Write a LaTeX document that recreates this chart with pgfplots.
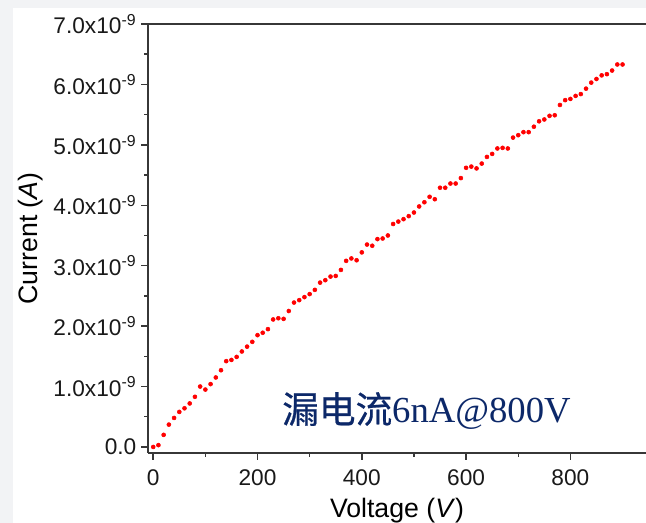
\documentclass[border=0pt]{standalone}
\usepackage{pgfplots}
\pgfplotsset{compat=1.18}
\usepackage{fontspec}
\setmainfont{Liberation Sans}
\newfontfamily\serifen{Liberation Serif}
\newfontfamily\cjk[FakeBold=0.6]{Noto Sans CJK SC}
\definecolor{pagegray}{RGB}{242,243,245}
\definecolor{spine}{RGB}{55,55,55}
\definecolor{note}{RGB}{12,40,105}

% leakage current (nA) against bias voltage (V)
\pgfplotstableread{
V I
0 0.00
10 0.03
20 0.20
30 0.37
40 0.48
50 0.58
60 0.64
70 0.72
80 0.83
90 1.00
100 0.95
110 1.04
120 1.15
130 1.27
140 1.42
150 1.44
160 1.49
170 1.58
180 1.66
190 1.74
200 1.85
210 1.89
220 1.95
230 2.11
240 2.13
250 2.12
260 2.25
270 2.39
280 2.43
290 2.48
300 2.53
310 2.60
320 2.72
330 2.76
340 2.82
350 2.83
360 2.93
370 3.08
380 3.12
390 3.09
400 3.22
410 3.35
420 3.33
430 3.44
440 3.45
450 3.50
460 3.69
470 3.73
480 3.77
490 3.82
500 3.88
510 3.98
520 4.05
530 4.14
540 4.10
550 4.29
560 4.29
570 4.36
580 4.36
590 4.45
600 4.62
610 4.64
620 4.61
630 4.69
640 4.80
650 4.85
660 4.94
670 4.95
680 4.94
690 5.12
700 5.16
710 5.21
720 5.21
730 5.30
740 5.39
750 5.42
760 5.48
770 5.49
780 5.66
790 5.74
800 5.76
810 5.81
820 5.84
830 5.93
840 6.03
850 6.09
860 6.15
870 6.17
880 6.23
890 6.33
900 6.33
}\leakdata

\begin{document}
\begin{tikzpicture}
\useasboundingbox (0,0) rectangle (484.5pt,392.25pt);
\fill[pagegray] (0,0) rectangle (484.5pt,392.25pt);
\fill[white] (9.75pt,0) rectangle (484.5pt,386.25pt);
\begin{axis}[
  at={(111pt,52.5pt)}, anchor=south west,
  scale only axis, width=373.5pt, height=321.75pt,
  xmin=-10, xmax=945, ymin=-0.1, ymax=7.0,
  axis x line=box, axis y line=left,
  axis line style={-, spine, line width=1.3pt},
  xtick pos=left,
  tick align=outside,
  major tick length=5.25pt, minor tick length=3pt,
  tick style={spine, line width=1.1pt},
  xtick={0,200,400,600,800}, minor x tick num=1,
  ytick={0,1,2,3,4,5,6,7}, minor y tick num=1,
  yticklabels={0.0,
    1.0x10\textsuperscript{-9}, 2.0x10\textsuperscript{-9},
    3.0x10\textsuperscript{-9}, 4.0x10\textsuperscript{-9},
    5.0x10\textsuperscript{-9}, 6.0x10\textsuperscript{-9},
    7.0x10\textsuperscript{-9}},
  /pgf/number format/assume math mode=true,
  ticklabel style={font=\fontsize{17}{19}\selectfont, text=black!90},
  xticklabel style={yshift=-4pt},
  xlabel={Voltage (\textit{V})},
  ylabel={Current (\textit{A})},
  every axis x label/.style={at={(axis description cs:0.5,-0.135)}, anchor=center,
    font=\fontsize{20}{24}\selectfont},
  every axis y label/.style={at={(axis description cs:-0.235,0.5)}, anchor=center, rotate=90,
    font=\fontsize{20}{24}\selectfont},
  clip=false,
]
\addplot[only marks, mark=*, mark size=1.5pt, color=red] table[x=V, y=I] {\leakdata};
\node[anchor=base west, text=note, inner sep=0pt] at (axis description cs:0.269,0.070)
  {\fontsize{27.5}{30}\selectfont{\cjk 漏电流}{\serifen 6nA@800V}};
\end{axis}
\end{tikzpicture}
\end{document}
